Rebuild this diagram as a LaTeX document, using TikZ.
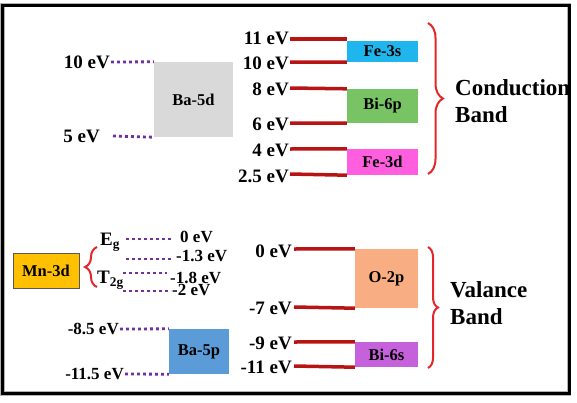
\documentclass[tikz,border=0pt]{standalone}
\usepackage{fontspec}
\setmainfont{Liberation Serif}
\newfontfamily\timesbf{Liberation Serif Bold}
\usetikzlibrary{positioning,decorations.pathreplacing}

\definecolor{lvlred}{HTML}{B81414}
\definecolor{brred}{HTML}{E4262A}
\definecolor{dotpurple}{HTML}{7030A0}
\definecolor{fethrees}{HTML}{1FB6EE}
\definecolor{bisixp}{HTML}{78C464}
\definecolor{fethreed}{HTML}{FF5EDF}
\definecolor{bafived}{HTML}{D9D9D9}
\definecolor{otwop}{HTML}{F8AD82}
\definecolor{bisixs}{HTML}{C661DC}
\definecolor{bafivep}{HTML}{5B9BD8}
\definecolor{mnthreed}{HTML}{FFC000}

\begin{document}
\begin{tikzpicture}[
  x=1pt,y=-1pt,
  lvl/.style={font=\timesbf\fontsize{19}{21}\selectfont,inner sep=1pt},
  sml/.style={font=\timesbf\fontsize{17}{19}\selectfont,inner sep=1pt},
  orb/.style={font=\timesbf\fontsize{16.5}{18}\selectfont,inner sep=0pt},
  bandtxt/.style={font=\timesbf\fontsize{23}{27}\selectfont,align=left,inner sep=0pt},
  redln/.style={draw=lvlred,line width=3.5pt},
  dotln/.style={draw=dotpurple,line width=2.8pt,dash pattern=on 2.8pt off 3.2pt},
  brc/.style={draw=brred,line width=2pt,decorate}
]
\useasboundingbox (0,0) rectangle (577,402);
\draw[gray!60,line width=4.5pt] (2.5,5) rectangle (569,393.5);
\draw[line width=3pt] (2.5,5) rectangle (569,393.5);

% conduction band
\node[orb,fill=fethrees,minimum width=71pt,minimum height=21pt] (fe3s) at (382.5,51.5) {Fe-3s};
\node[orb,fill=bisixp,minimum width=71pt,minimum height=34pt] (bi6p) at (382.5,106) {Bi-6p};
\node[orb,fill=fethreed,minimum width=71pt,minimum height=26pt] (fe3d) at (382.5,162) {Fe-3d};

\node[lvl,anchor=east] (c11) at (290,38) {11 eV};
\node[lvl,anchor=east] (c10) at (290,63) {10 eV};
\node[lvl,anchor=east] (c8) at (290,89) {8 eV};
\node[lvl,anchor=east] (c6) at (290,124) {6 eV};
\node[lvl,anchor=east] (c4) at (290,150) {4 eV};
\node[lvl,anchor=east] (c25) at (290,176) {2.5 eV};

\draw[redln] (290,39) -- (fe3s.west |- 0,39);
\draw[redln] (290,62) -- (fe3s.south west);
\draw[redln] (290,88) -- (bi6p.north west);
\draw[redln] (290,123) -- (bi6p.south west);
\draw[redln] (290,149) -- (fe3d.north west);
\draw[redln] (290,174) -- (fe3d.south west);

\draw[brc,decoration={brace,amplitude=15pt}] (428,23) -- (428,174);
\node[bandtxt,anchor=west] (cb) at (455,101) {Conduction\\Band};

% Ba-5d
\node[orb,fill=bafived,minimum width=79pt,minimum height=75pt] (ba5d) at (193.5,99.5) {Ba-5d};
\node[lvl,anchor=east] (b10) at (111,62) {10 eV};
\node[lvl,anchor=east] (b5) at (101,136) {5 eV};
\draw[dotln] (b10.east) -- (ba5d.north west);
\draw[dotln] (113,136) -- (ba5d.south west);

% valence band
\node[orb,fill=otwop,minimum width=63pt,minimum height=59pt] (o2p) at (386.5,278.5) {O-2p};
\node[orb,fill=bisixs,minimum width=63pt,minimum height=25pt] (bi6s) at (386.5,354.5) {Bi-6s};

\node[lvl,anchor=east] (v0) at (293,251) {0 eV};
\node[lvl,anchor=east] (v7) at (293,308) {-7 eV};
\node[lvl,anchor=east] (v9) at (293,343) {-9 eV};
\node[lvl,anchor=east] (v11) at (293,367) {-11 eV};

\draw[redln] (294,249) -- (o2p.north west);
\draw[redln] (294,307) -- (o2p.south west);
\draw[redln] (294,342) -- (bi6s.north west);
\draw[redln] (294,366) -- (bi6s.south west);

\draw[brc,decoration={brace,amplitude=10pt}] (428,247) -- (428,368);
\node[bandtxt,anchor=west] (vb) at (450,303) {Valance\\Band};

% Mn-3d
\node[orb,fill=mnthreed,draw=black!65,line width=0.8pt,minimum width=66pt,minimum height=35pt] (mn3d) at (46,270.5) {Mn-3d};
\draw[brc,decoration={brace,amplitude=12pt}] (97,287) -- (97,247);
\node[lvl,anchor=west] (eg) at (99,242) {E\textsubscript{g}};
\node[lvl,anchor=west] (t2g) at (96,280) {T\textsubscript{2g}};

\node[sml,anchor=west] (m0) at (179,237) {0 eV};
\node[sml,anchor=west] (m13) at (175,256) {-1.3 eV};
\node[sml,anchor=west] (m18) at (169,278) {-1.8 eV};
\node[sml,anchor=west] (m2) at (171,290) {-2 eV};

\draw[dotln] (126,239) -- (172,239);
\draw[dotln] (126,259) -- (172,259);
\draw[dotln] (123,273) -- (167,273);
\draw[dotln] (123,291) -- (m2.west |- 0,291);

% Ba-5p
\node[orb,fill=bafivep,minimum width=60pt,minimum height=45pt] (ba5p) at (199,351.5) {Ba-5p};
\node[sml,anchor=east] (p85) at (120,329) {-8.5 eV};
\node[sml,anchor=east] (p115) at (125,374) {-11.5 eV};
\draw[dotln] (p85.east) -- (ba5p.north west);
\draw[dotln] (p115.east) -- (ba5p.south west);
\end{tikzpicture}
\end{document}
